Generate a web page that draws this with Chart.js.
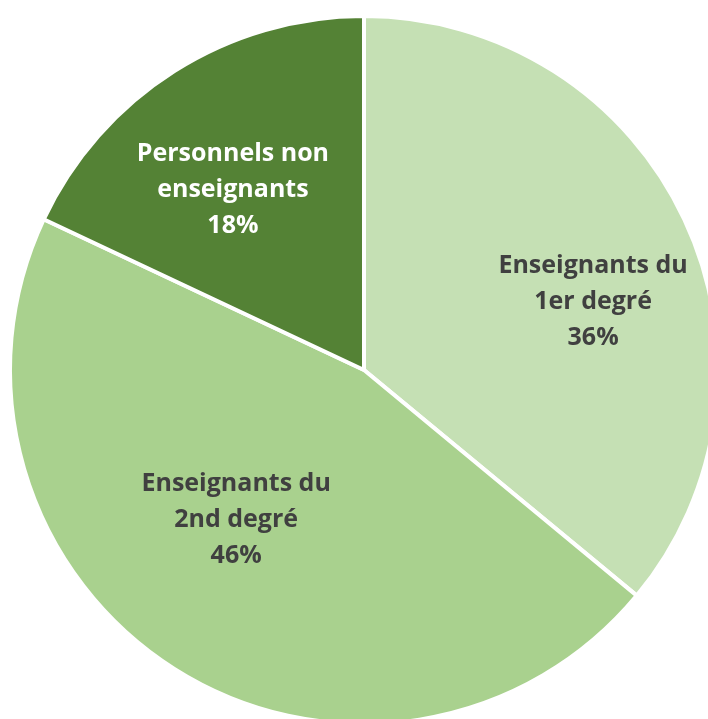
<!DOCTYPE html>
<html>
<head>
<meta charset="utf-8">
<script src="https://cdn.jsdelivr.net/npm/chart.js@4"></script>
<style>
  html, body { margin: 0; padding: 0; overflow: hidden; background: #fff; }
  #wrap { position: absolute; left: 0; top: 0; width: 728px; height: 740px; }
</style>
</head>
<body>
<div id="wrap"><canvas id="chart"></canvas></div>
<script>
// data
const categories = ["Enseignants du 1er degré", "Enseignants du 2nd degré", "Personnels non enseignants"];
const shares = [36, 46, 18];
const labelLines = [
  ["Enseignants du", "1er degré"],
  ["Enseignants du", "2nd degré"],
  ["Personnels non", "enseignants"]
];

const colors = ["#c5e0b4", "#a9d18e", "#548235"];
const textColors = ["#404040", "#404040", "#ffffff"];
// where excel put each label: angle (deg from 3 o'clock, clockwise), share of radius
const labelSpots = [[-16.5, 0.675], [130.5, 0.556], [-126, 0.63]];

const sliceLabels = {
  id: "sliceLabels",
  afterDatasetsDraw(chart) {
    const ctx = chart.ctx;
    const meta = chart.getDatasetMeta(0);
    ctx.save();
    ctx.font = "bold 25px 'Open Sans'";
    ctx.textAlign = "center";
    ctx.textBaseline = "middle";
    meta.data.forEach((arc, i) => {
      const [deg, frac] = labelSpots[i];
      const a = deg * Math.PI / 180;
      const x = arc.x + Math.cos(a) * arc.outerRadius * frac;
      const y = arc.y + Math.sin(a) * arc.outerRadius * frac;
      const lines = labelLines[i].concat([shares[i] + "%"]);
      const lh = 36;
      ctx.fillStyle = textColors[i];
      lines.forEach((t, k) => {
        ctx.fillText(t, x, y + (k - (lines.length - 1) / 2) * lh);
      });
    });
    ctx.restore();
  }
};

new Chart(document.getElementById("chart"), {
  type: "pie",
  data: {
    labels: categories,
    datasets: [{
      data: shares,
      backgroundColor: colors,
      borderColor: "#ffffff",
      borderWidth: 4
    }]
  },
  options: {
    responsive: true,
    maintainAspectRatio: false,
    animation: false,
    layout: { padding: 8 },
    plugins: {
      legend: { display: false },
      tooltip: { enabled: false }
    }
  },
  plugins: [sliceLabels]
});
</script>
</body>
</html>
